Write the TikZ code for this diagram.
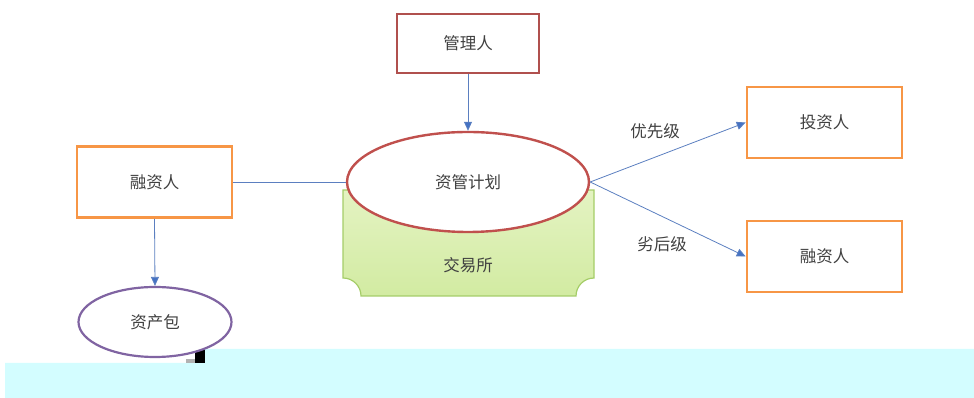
\documentclass[tikz,border=0pt]{standalone}
\usepackage{fontspec}
\setmainfont{Noto Sans CJK SC}
\usetikzlibrary{shapes.geometric,arrows.meta}
\definecolor{mgrred}{HTML}{B0504E}
\definecolor{planred}{HTML}{C0504D}
\definecolor{boxorange}{HTML}{F79646}
\definecolor{bagpurple}{HTML}{8064A2}
\definecolor{linkblue}{HTML}{5B7FC0}
\definecolor{tipblue}{HTML}{4472C4}
\definecolor{exgreen}{HTML}{A5CD68}
\definecolor{exlight}{HTML}{E4F3C2}
\definecolor{exdark}{HTML}{D2EBA2}
\definecolor{txtgray}{HTML}{404040}
\definecolor{stripcyan}{HTML}{D3FDFF}
\tikzset{
  lbl/.style={font=\fontsize{16.5}{19}\selectfont, text=txtgray},
  obox/.style={lbl, draw=boxorange, line width=2.6pt, minimum width=155pt, minimum height=71pt, inner sep=0pt},
  link/.style={draw=linkblue, line width=0.8pt},
  arr/.style={link, -{Triangle[length=9pt,width=8pt,fill=tipblue]}},
}
\begin{document}
\begin{tikzpicture}[x=1pt,y=1pt]
\useasboundingbox (0,0) rectangle (974,398);
% background strip
\fill[stripcyan] (5,0) -- (974,0) -- (974,49) -- (200,49) -- (200,35) -- (5,35) -- cycle;
\fill[black] (195,35) rectangle (205,49);
\fill[gray!60] (186,35) rectangle (195,39);
% exchange shape
\path[draw=exgreen, line width=1.2pt, top color=exlight, bottom color=exdark]
  (343,208) -- (343,120) arc[start angle=90, end angle=0, radius=18pt]
  -- (576,102) arc[start angle=180, end angle=90, radius=18pt]
  -- (594,208) -- cycle;
\node[lbl] (ex) at (468,133) {交易所};
% nodes
\node[lbl, draw=mgrred, line width=2.6pt, minimum width=142pt, minimum height=59pt, inner sep=0pt] (mgr) at (468,354.5) {管理人};
\node[lbl, ellipse, draw=planred, fill=white, line width=2.4pt, minimum width=242pt, minimum height=100pt, inner sep=0pt] (plan) at (468,216) {资管计划};
\node[obox] (finl) at (154.5,216) {融资人};
\node[lbl, ellipse, draw=bagpurple, fill=white, line width=2.2pt, minimum width=153pt, minimum height=70pt, inner sep=0pt] (bag) at (155,76) {资产包};
\node[obox] (inv) at (824.5,275.5) {投资人};
\node[obox] (finr) at (824.5,141.5) {融资人};
% connectors
\draw[arr] (mgr.south) -- (plan.north);
\draw[link] (finl.east) -- (plan.west);
\draw[arr] (finl.south) -- (bag.north);
\draw[arr] (plan.east) -- (inv.west);
\draw[arr] (plan.east) -- (finr.west);
\node[lbl] (pri) at (655,267) {优先级};
\node[lbl] (sub) at (662,154) {劣后级};
\end{tikzpicture}
\end{document}
